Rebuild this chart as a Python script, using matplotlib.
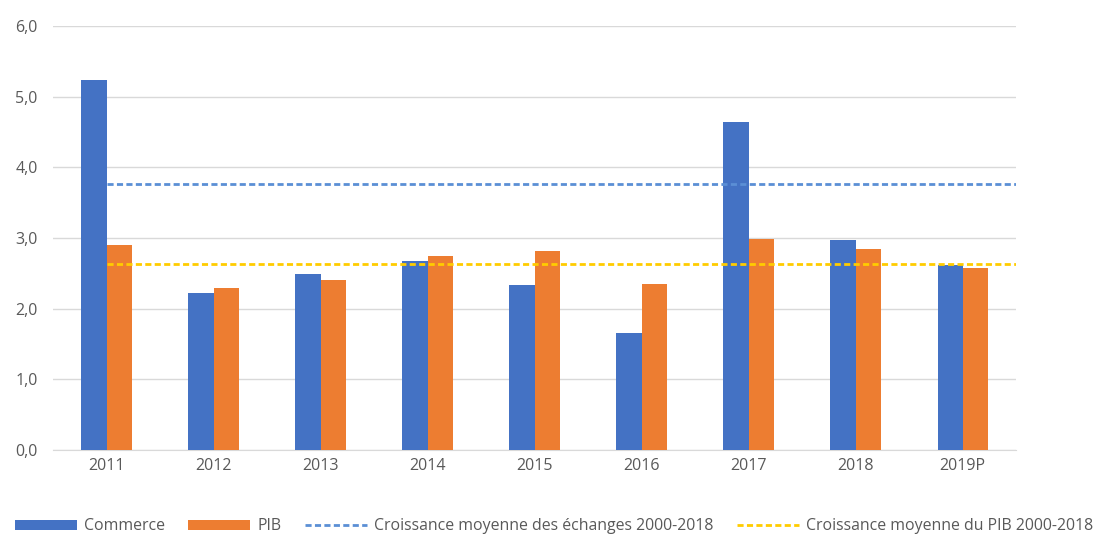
"""
Commerce vs PIB growth, with 2000-2018 average lines.
"""

import matplotlib
matplotlib.use("Agg")
import matplotlib.pyplot as plt
import numpy as np
from matplotlib.ticker import FuncFormatter, MultipleLocator

years = ["2011", "2012", "2013", "2014", "2015", "2016", "2017", "2018", "2019P"]
commerce = [5.24, 2.22, 2.49, 2.68, 2.33, 1.65, 4.64, 2.97, 2.62]
pib = [2.90, 2.29, 2.41, 2.75, 2.82, 2.35, 2.98, 2.85, 2.58]
avg_trade = 3.76
avg_pib = 2.63

BLUE = "#4472C4"
ORANGE = "#ED7D31"
LINE_BLUE = "#5B8FD5"
YELLOW = "#FFCC00"
TEXT = "#595959"

plt.rcParams["font.family"] = ["Open Sans", "DejaVu Sans"]

fig = plt.figure(figsize=(10.95, 5.38), dpi=100)
ax = fig.add_axes([0.0484, 0.1636, 0.8796, 0.7881])

x = np.arange(len(years))
w = 0.235
b1 = ax.bar(x - w / 2, commerce, w, color=BLUE, label="Commerce", zorder=3)
b2 = ax.bar(x + w / 2, pib, w, color=ORANGE, label="PIB", zorder=3)

l1, = ax.plot([0, len(years) - 0.5], [avg_trade, avg_trade], color=LINE_BLUE, lw=2,
              ls=(0, (2.2, 1.2)), label="Croissance moyenne des échanges 2000-2018", zorder=4)
l2, = ax.plot([0, len(years) - 0.5], [avg_pib, avg_pib], color=YELLOW, lw=2,
              ls=(0, (2.2, 1.2)), label="Croissance moyenne du PIB 2000-2018", zorder=4)

ax.set_xlim(-0.5, len(years) - 0.5)
ax.set_ylim(0, 6)
ax.yaxis.set_major_locator(MultipleLocator(1))
ax.yaxis.set_major_formatter(FuncFormatter(lambda v, p: f"{v:.1f}".replace(".", ",")))
ax.set_xticks(x)
ax.set_xticklabels(years)

ax.grid(axis="y", color="#D9D9D9", lw=1, zorder=0)
for s in ["top", "right", "left"]:
    ax.spines[s].set_visible(False)
ax.spines["bottom"].set_color("#D9D9D9")
ax.tick_params(axis="both", length=0, colors=TEXT, labelsize=11.5)
ax.tick_params(axis="y", pad=11)
ax.tick_params(axis="x", pad=6)

handles = [b1, b2, l1, l2]
leg = fig.legend(handles, [h.get_label() for h in handles], loc="center",
                 bbox_to_anchor=(0.506, 0.022), ncol=4, frameon=False,
                 fontsize=11.4, handlelength=3.9, handleheight=0.6,
                 columnspacing=1.5, handletextpad=0.45)
for t in leg.get_texts():
    t.set_color(TEXT)

fig.savefig("out.png", dpi=100)
